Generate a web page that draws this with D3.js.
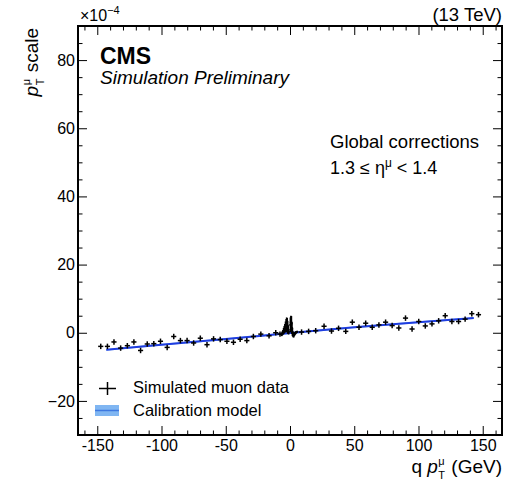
<!DOCTYPE html>
<html>
<head>
<meta charset="utf-8">
<script src="https://cdn.jsdelivr.net/npm/d3@7"></script>
<style>
  body { margin: 0; background: #fff; }
  svg { display: block; font-family: "Liberation Sans", Arial, sans-serif; }
</style>
</head>
<body>
<svg id="chart" width="514" height="482"></svg>
<script>
// ---- data (p_T scale x 1e-4 vs q*pT) ----
const dataX = [-147.3, -142.1, -137.0, -131.8, -126.6, -121.5, -116.3, -111.1, -106.0, -100.8,
  -95.6, -90.5, -85.3, -80.1, -75.0, -69.8, -64.6, -59.5, -54.3, -49.1,
  -44.0, -38.8, -33.6, -28.5, -22.7, -16.3, -11.1, -7.8,
  9.0, 14.5, 20.0, 26.5, 32.3, 37.8, 43.4, 48.5, 53.7, 58.9,
  64.0, 69.2, 74.4, 79.5, 84.7, 89.9, 95.0, 100.2, 105.3, 110.5,
  115.7, 120.8, 126.0, 131.2, 136.3, 141.5, 146.7];
const dataY = [-4.0, -4.0, -2.7, -4.5, -3.8, -2.7, -5.2, -3.3, -3.2, -2.5,
  -4.3, -1.1, -2.3, -2.3, -3.0, -1.6, -3.5, -1.8, -2.0, -2.5,
  -2.8, -1.9, -2.3, -1.1, -0.4, -0.9, 0.0, -0.4,
  0.2, 0.4, 0.6, 1.9, 0.5, 1.3, 0.4, 3.1, 1.6, 2.8,
  1.6, 2.3, 3.1, 2.1, 1.4, 4.3, 1.1, 3.3, 2.0, 2.6,
  3.5, 5.0, 3.3, 3.3, 4.0, 5.6, 5.3];
// dense low-pT region around zero
const centerX = [-6.5, -6.0, -5.5, -5.0, -4.5, -4.0, -3.5, -3.0, -2.6, -2.2, -1.8, -1.4, -1.0,
  0.3, 0.7, 1.1, 1.5, 1.9, 2.4, 2.9, 3.4, 3.9, 4.4, 5.0, 5.6];
const centerY = [-0.5, -0.2, 0.1, 0.5, 0.9, 1.3, 1.7, 2.1, 2.4, 2.2, 1.6, 0.9, 0.3,
  2.3, 3.0, 2.7, 1.4, 0.2, -0.5, -0.8, -0.5, -0.2, 0.0, 0.2, 0.3];
const centerErr = [0.5, 0.6, 0.7, 0.9, 1.1, 1.3, 1.6, 1.9, 2.1, 2.1, 1.9, 1.3, 0.8,
  2.2, 2.0, 2.2, 1.8, 1.2, 0.8, 0.6, 0.5, 0.4, 0.4, 0.3, 0.3];
// calibration model
const modelX = [-143, -100, -50, 0, 50, 100, 143];
const modelY = [-5.0, -3.5, -1.85, -0.1, 1.6, 3.1, 4.3];
const modelBand = 0.25;
const xTicks = [-150, -100, -50, 0, 50, 100, 150];
const yTicks = [-20, 0, 20, 40, 60, 80];

// ---- layout ----
const svg = d3.select("#chart");
const L = 78, R = 502, T = 26, B = 435;
const x = d3.scaleLinear().domain([-165, 165]).range([L, R]);
const y = d3.scaleLinear().domain([-30, 90]).range([B, T]);

const g = svg.append("g");

// model band + line
const bandArea = d3.area().x((d, i) => x(modelX[i])).y0((d, i) => y(modelY[i] - modelBand)).y1((d, i) => y(modelY[i] + modelBand));
g.append("path").datum(modelX).attr("d", bandArea).attr("fill", "#8fc0f5");
const line = d3.line().x((d, i) => x(modelX[i])).y((d, i) => y(modelY[i]));
g.append("path").datum(modelX).attr("d", line).attr("fill", "none").attr("stroke", "#1f3de0").attr("stroke-width", 2);

// crosses
const hw = 2.0, err = 0.8;
const pts = g.append("g").attr("stroke", "#000").attr("stroke-width", 1.5);
dataX.forEach((xv, i) => {
  const yv = dataY[i];
  pts.append("line").attr("x1", x(xv - hw)).attr("x2", x(xv + hw)).attr("y1", y(yv)).attr("y2", y(yv));
  pts.append("line").attr("x1", x(xv)).attr("x2", x(xv)).attr("y1", y(yv - err)).attr("y2", y(yv + err));
});
const cpts = g.append("g").attr("stroke", "#000").attr("stroke-width", 1.6);
centerX.forEach((xv, i) => {
  const yv = centerY[i], e = centerErr[i];
  cpts.append("line").attr("x1", x(xv - 0.9)).attr("x2", x(xv + 0.9)).attr("y1", y(yv)).attr("y2", y(yv));
  cpts.append("line").attr("x1", x(xv)).attr("x2", x(xv)).attr("y1", y(yv - e)).attr("y2", y(yv + e));
});

// ---- axes ----
const minorX = d3.range(-160, 170, 10).filter(v => !xTicks.includes(v));
const minorY = d3.range(-25, 90, 5).filter(v => !yTicks.includes(v));
function styleAxis(sel) {
  sel.select(".domain").remove();
  sel.selectAll("line").attr("stroke", "#000").attr("stroke-width", 1);
  sel.selectAll("text").attr("font-size", 16).attr("fill", "#000").attr("font-family", "Liberation Sans, Arial, sans-serif");
}
svg.append("g").attr("transform", `translate(0,${B})`)
  .call(d3.axisBottom(x).tickValues(xTicks).tickSizeInner(-9).tickSizeOuter(0).tickPadding(5).tickFormat(d => String(d)))
  .call(styleAxis);
svg.append("g").attr("transform", `translate(0,${B})`)
  .call(d3.axisBottom(x).tickValues(minorX).tickSizeInner(-4.5).tickSizeOuter(0).tickFormat(""))
  .call(styleAxis);
svg.append("g").attr("transform", `translate(0,${T})`)
  .call(d3.axisTop(x).tickValues(xTicks).tickSizeInner(-9).tickSizeOuter(0).tickFormat(""))
  .call(styleAxis);
svg.append("g").attr("transform", `translate(0,${T})`)
  .call(d3.axisTop(x).tickValues(minorX).tickSizeInner(-4.5).tickSizeOuter(0).tickFormat(""))
  .call(styleAxis);
svg.append("g").attr("transform", `translate(${L},0)`)
  .call(d3.axisLeft(y).tickValues(yTicks).tickSizeInner(-9).tickSizeOuter(0).tickPadding(3))
  .call(styleAxis);
svg.append("g").attr("transform", `translate(${L},0)`)
  .call(d3.axisLeft(y).tickValues(minorY).tickSizeInner(-4.5).tickSizeOuter(0).tickFormat(""))
  .call(styleAxis);
svg.append("g").attr("transform", `translate(${R},0)`)
  .call(d3.axisRight(y).tickValues(yTicks).tickSizeInner(-9).tickSizeOuter(0).tickFormat(""))
  .call(styleAxis);
svg.append("g").attr("transform", `translate(${R},0)`)
  .call(d3.axisRight(y).tickValues(minorY).tickSizeInner(-4.5).tickSizeOuter(0).tickFormat(""))
  .call(styleAxis);

// frame
svg.append("rect").attr("x", L).attr("y", T).attr("width", R - L).attr("height", B - T)
  .attr("fill", "none").attr("stroke", "#000").attr("stroke-width", 2);

// ---- texts ----
const mult = svg.append("text").attr("x", 80).attr("y", 21).attr("font-size", 16);
mult.append("tspan").text("×10");
mult.append("tspan").attr("font-size", 11).attr("dy", -7).text("−4");

svg.append("text").attr("x", R).attr("y", 21).attr("text-anchor", "end").attr("font-size", 18.5).text("(13 TeV)");

svg.append("text").attr("x", 100).attr("y", 64).attr("font-size", 23).attr("font-weight", "bold").text("CMS");
svg.append("text").attr("x", 100).attr("y", 84).attr("font-size", 19).attr("font-style", "italic").text("Simulation Preliminary");

svg.append("text").attr("x", 330).attr("y", 148).attr("font-size", 18.5).text("Global corrections");
const eta = svg.append("text").attr("x", 330).attr("y", 174).attr("font-size", 18);
eta.append("tspan").text("1.3 ≤ η");
eta.append("tspan").attr("font-size", 12).attr("dy", -7).text("μ");
eta.append("tspan").attr("dy", 7).text(" < 1.4");

// x title (stacked super/subscript drawn as separate pieces)
const gap = 5.5;
const xtG = svg.append("g");
const xt1 = xtG.append("text").attr("x", 0).attr("y", 473).attr("font-size", 19);
xt1.append("tspan").text("q ");
xt1.append("tspan").attr("font-style", "italic").text("p");
const w1 = xt1.node().getComputedTextLength();
xtG.append("text").attr("x", w1 + 0.5).attr("y", 465).attr("font-size", 11).text("μ");
xtG.append("text").attr("x", w1 + 0.5).attr("y", 479).attr("font-size", 11).text("T");
const xt2 = xtG.append("text").attr("x", w1 + 8 + gap).attr("y", 473).attr("font-size", 19).text("(GeV)");
const wx = w1 + 8 + gap + xt2.node().getComputedTextLength();
xtG.attr("transform", `translate(${R - wx},0)`);

// y title
const ytG = svg.append("g");
const yt1 = ytG.append("text").attr("x", 0).attr("y", 0).attr("font-size", 19).attr("font-style", "italic").text("p");
const wp = yt1.node().getComputedTextLength();
ytG.append("text").attr("x", wp + 0.5).attr("y", -8).attr("font-size", 11).text("μ");
ytG.append("text").attr("x", wp + 0.5).attr("y", 6).attr("font-size", 11).text("T");
const yt2 = ytG.append("text").attr("x", wp + 8 + gap).attr("y", 0).attr("font-size", 19).text("scale");
const wy = wp + 8 + gap + yt2.node().getComputedTextLength();
ytG.attr("transform", `translate(38,${T + 2 + wy}) rotate(-90)`);

// legend
const lg = svg.append("g");
lg.append("line").attr("x1", 99).attr("x2", 116).attr("y1", 388.5).attr("y2", 388.5).attr("stroke", "#000").attr("stroke-width", 1.5);
lg.append("line").attr("x1", 107.5).attr("x2", 107.5).attr("y1", 382).attr("y2", 395).attr("stroke", "#000").attr("stroke-width", 1.5);
lg.append("text").attr("x", 133).attr("y", 393).attr("font-size", 16.5).text("Simulated muon data");
lg.append("rect").attr("x", 95).attr("y", 405).attr("width", 24).attr("height", 11).attr("fill", "#80b6f2");
lg.append("line").attr("x1", 95).attr("x2", 119).attr("y1", 410.5).attr("y2", 410.5).attr("stroke", "#3d78e0").attr("stroke-width", 1.5);
lg.append("text").attr("x", 133).attr("y", 416).attr("font-size", 16.5).text("Calibration model");
</script>
</body>
</html>
